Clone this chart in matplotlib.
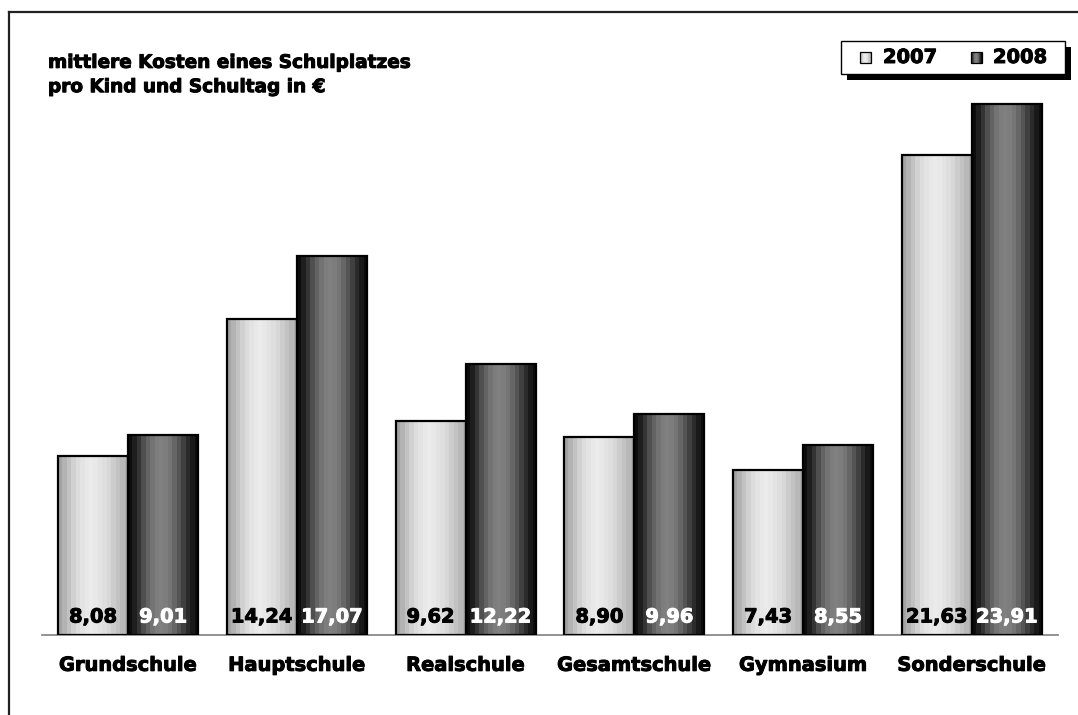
import numpy as np
import matplotlib
matplotlib.use("Agg")
import matplotlib.pyplot as plt
import matplotlib.patheffects as pe
from matplotlib.patches import Rectangle
from matplotlib.lines import Line2D

categories = ["Grundschule", "Hauptschule", "Realschule", "Gesamtschule", "Gymnasium", "Sonderschule"]
years = ["2007", "2008"]
values_2007 = [8.08, 14.24, 9.62, 8.90, 7.43, 21.63]
values_2008 = [9.01, 17.07, 12.22, 9.96, 8.55, 23.91]
title = "mittlere Kosten eines Schulplatzes\npro Kind und Schultag in €"

W, H = 1078, 715
fig = plt.figure(figsize=(W / 100, H / 100), dpi=100)
fig.patch.set_facecolor("white")


def heavy(color):
    # thicken the bold face a little
    return [pe.Stroke(linewidth=0.7, foreground=color), pe.Normal()]


# axes placement in pixels
left, right, bottom, top = 42, 1058, 635, 60
ax = fig.add_axes([left / W, 1 - bottom / H, (right - left) / W, (bottom - top) / H])
ax.set_xlim(-0.51, 5.51)
ax.set_ylim(0, 25.9)
for s in ["top", "right", "left"]:
    ax.spines[s].set_visible(False)
ax.spines["bottom"].set_color("#808080")
ax.spines["bottom"].set_linewidth(1.2)
ax.set_yticks([])

# horizontal cylinder-like shading profiles (left edge -> right edge)
light_profile = [0.64, 0.70, 0.76, 0.82, 0.86, 0.89, 0.91, 0.92, 0.91, 0.89, 0.87, 0.84, 0.80, 0.76, 0.72, 0.68]
dark_profile = [0.05, 0.12, 0.21, 0.31, 0.39, 0.45, 0.49, 0.50, 0.49, 0.46, 0.40, 0.33, 0.25, 0.17, 0.10, 0.05]


def shaded(ax, bars, profile):
    img = np.array(profile)[None, :]
    for b in bars:
        x0, w, h = b.get_x(), b.get_width(), b.get_height()
        im = ax.imshow(img, cmap="gray", vmin=0, vmax=1, aspect="auto",
                       extent=(x0, x0 + w, 0, h), interpolation="nearest", zorder=2)
        im.set_clip_path(b)
        b.set_facecolor("none")
        b.set_zorder(3)


x = np.arange(len(categories))
bw = 0.415
bars07 = ax.bar(x - bw / 2, values_2007, bw, edgecolor="black", linewidth=1.6)
bars08 = ax.bar(x + bw / 2, values_2008, bw, edgecolor="black", linewidth=1.6)
shaded(ax, bars07, light_profile)
shaded(ax, bars08, dark_profile)


def label(v):
    return f"{v:.2f}".replace(".", ",")


for bars, vals, col in ((bars07, values_2007, "black"), (bars08, values_2008, "white")):
    for b, v in zip(bars, vals):
        ax.annotate(label(v), (b.get_x() + b.get_width() / 2, 0), xytext=(0, 18),
                    textcoords="offset pixels", ha="center", va="center",
                    fontsize=14, fontweight="bold", color=col, zorder=5,
                    path_effects=heavy(col))

ax.set_xticks(x)
ax.set_xticklabels(categories, fontsize=14, fontweight="bold")
for t in ax.get_xticklabels():
    t.set_path_effects(heavy("black"))
ax.tick_params(axis="x", length=0, pad=15)

# title
fig.text(48 / W, 1 - 75 / H, title, fontsize=13.3, fontweight="bold",
         ha="left", va="center", linespacing=1.45, path_effects=heavy("black"))

# legend box with drop shadow, laid out in figure pixels
def px(xp, yp):
    return xp / W, 1 - yp / H

lx0, ly0, lx1, ly1 = 841, 41, 1065, 74
sh = 6
fig.add_artist(Rectangle(px(lx0 + sh, ly1 + sh), (lx1 - lx0) / W, (ly1 - ly0) / H,
                         transform=fig.transFigure, facecolor="black", edgecolor="none", zorder=10))
fig.add_artist(Rectangle(px(lx0, ly1), (lx1 - lx0) / W, (ly1 - ly0) / H,
                         transform=fig.transFigure, facecolor="white", edgecolor="black",
                         linewidth=1.0, zorder=11))
sq = 11
for sx, tx, name, prof in ((860, 883, years[0], light_profile), (971, 993, years[1], dark_profile)):
    cy = (ly0 + ly1) / 2
    n = len(prof)
    for i, p in enumerate(prof):
        fig.add_artist(Rectangle(px(sx + i * sq / n, cy + sq / 2), sq / n / W, sq / H,
                                 transform=fig.transFigure, facecolor=str(p),
                                 edgecolor="none", zorder=12))
    fig.add_artist(Rectangle(px(sx, cy + sq / 2), sq / W, sq / H, transform=fig.transFigure,
                             facecolor="none", edgecolor="black", linewidth=0.9, zorder=13))
    fig.text(*px(tx, cy), name, fontsize=14, fontweight="bold", ha="left", va="center",
             zorder=13, path_effects=heavy("black"))

# outer frame (top and left edges)
fig.add_artist(Line2D([9 / W, 1.0], [1 - 12 / H, 1 - 12 / H], color="#222222", lw=1.6,
                      transform=fig.transFigure))
fig.add_artist(Line2D([9 / W, 9 / W], [1 - 12 / H, 0.0], color="#222222", lw=1.6,
                      transform=fig.transFigure))

fig.savefig("out.png", dpi=100, facecolor="white")
